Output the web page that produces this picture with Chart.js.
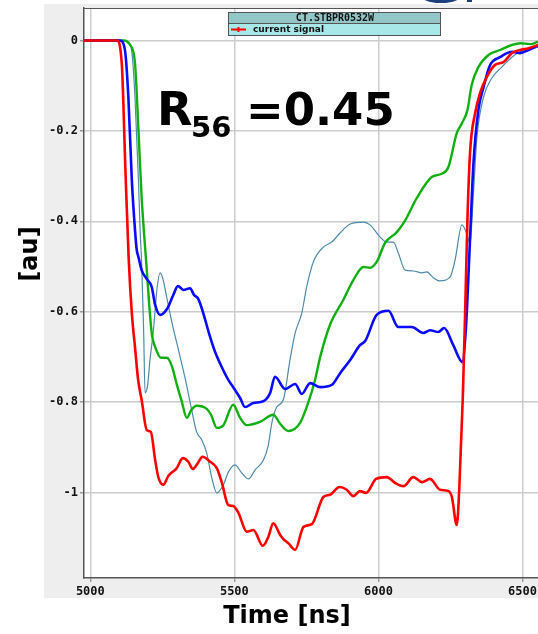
<!DOCTYPE html>
<html>
<head>
<meta charset="utf-8">
<script src="https://cdn.jsdelivr.net/npm/chart.js@4.4.0/dist/chart.umd.min.js"></script>
<style>
    html, body { margin: 0; padding: 0; background: #ffffff; }
    #chart { display: block; }
</style>
</head>
<body>
<canvas id="chart" width="538" height="634"></canvas>
<script>
    'use strict';

    // time axis (ns) and signal values (au)
    var redTime = [4978, 5079, 5092, 5109, 5122, 5133, 5144, 5155, 5166, 5178, 5196, 5210, 5225, 5236, 5253, 5271, 5300, 5321, 5340, 5356,
        5369, 5390, 5416, 5439, 5456, 5479, 5496, 5514, 5543, 5566, 5599, 5618, 5635, 5659, 5670, 5687, 5711, 5740, 5769, 5809,
        5832, 5865, 5890, 5913, 5936, 5957, 5992, 6029, 6058, 6087, 6121, 6151, 6179, 6214, 6243, 6255, 6272, 6281, 6293, 6301,
        6309, 6318, 6336, 6353, 6376, 6405, 6434, 6463, 6492, 6521, 6554];
    var redValues = [0, 0, 0, -0.050, -0.29, -0.48, -0.603, -0.678, -0.751, -0.795, -0.862, -0.866, -0.928, -0.966, -0.983, -0.963, -0.946, -0.924, -0.932, -0.948,
        -0.939, -0.921, -0.932, -0.946, -0.977, -1.028, -1.030, -1.045, -1.087, -1.083, -1.118, -1.098, -1.068, -1.094, -1.103, -1.112, -1.127, -1.076, -1.070, -1.010,
        -1.005, -0.988, -0.994, -1.008, -0.997, -1.001, -0.970, -0.966, -0.979, -0.986, -0.966, -0.977, -0.970, -0.994, -0.997, -1.010, -1.072, -0.988, -0.789, -0.603,
        -0.397, -0.249, -0.160, -0.116, -0.081, -0.054, -0.048, -0.028, -0.021, -0.017, -0.010];

    var blueTime = [4978, 5103, 5120, 5132, 5144, 5155, 5161, 5167, 5178, 5196, 5213, 5225, 5242, 5266, 5288, 5304, 5323, 5346, 5360, 5375,
        5392, 5412, 5433, 5450, 5479, 5496, 5520, 5537, 5566, 5601, 5624, 5641, 5676, 5711, 5734, 5763, 5798, 5838, 5867, 5902,
        5936, 5954, 5994, 6035, 6069, 6116, 6156, 6179, 6208, 6228, 6260, 6291, 6304, 6316, 6330, 6347, 6365, 6388, 6422, 6463,
        6492, 6521, 6554];
    var blueValues = [0, 0, -0.021, -0.125, -0.309, -0.419, -0.463, -0.479, -0.508, -0.528, -0.545, -0.585, -0.607, -0.594, -0.563, -0.543, -0.552, -0.548, -0.563, -0.572,
        -0.603, -0.648, -0.689, -0.714, -0.751, -0.767, -0.791, -0.811, -0.802, -0.798, -0.780, -0.744, -0.771, -0.760, -0.782, -0.758, -0.767, -0.762, -0.736, -0.707,
        -0.674, -0.665, -0.607, -0.598, -0.634, -0.634, -0.647, -0.641, -0.645, -0.636, -0.674, -0.711, -0.634, -0.470, -0.271, -0.154, -0.103, -0.054, -0.037, -0.025,
        -0.028, -0.021, -0.012];

    var greenTime = [4978, 5115, 5138, 5155, 5167, 5178, 5190, 5196, 5205, 5214, 5225, 5245, 5265, 5284, 5298, 5317, 5335, 5351, 5369, 5404,
        5419, 5439, 5462, 5496, 5520, 5543, 5589, 5635, 5659, 5687, 5728, 5757, 5780, 5798, 5832, 5878, 5913, 5948, 5971, 5994,
        6023, 6064, 6093, 6133, 6185, 6220, 6243, 6272, 6290, 6309, 6324, 6347, 6382, 6422, 6463, 6492, 6527, 6554];
    var greenValues = [0, 0, -0.010, -0.050, -0.198, -0.346, -0.457, -0.508, -0.590, -0.652, -0.678, -0.702, -0.702, -0.722, -0.756, -0.798, -0.835, -0.817, -0.808, -0.815,
        -0.828, -0.857, -0.851, -0.806, -0.835, -0.851, -0.844, -0.828, -0.848, -0.864, -0.846, -0.800, -0.751, -0.700, -0.629, -0.574, -0.530, -0.501, -0.503, -0.490,
        -0.448, -0.424, -0.398, -0.349, -0.302, -0.295, -0.280, -0.205, -0.183, -0.154, -0.098, -0.059, -0.032, -0.021, -0.010, -0.006, -0.008, -0.003];

    var thinTime = [4978, 5117, 5131, 5144, 5155, 5167, 5173, 5178, 5185, 5190, 5199, 5207, 5219, 5231, 5242, 5253, 5265, 5283, 5306, 5329,
        5352, 5369, 5387, 5404, 5421, 5439, 5462, 5479, 5502, 5526, 5549, 5572, 5601, 5618, 5630, 5647, 5670, 5693, 5711, 5734,
        5751, 5774, 5809, 5838, 5867, 5902, 5948, 5971, 6006, 6029, 6052, 6069, 6093, 6121, 6151, 6168, 6191, 6214, 6249, 6266,
        6290, 6307, 6318, 6330, 6342, 6365, 6394, 6428, 6463, 6492, 6527, 6554];
    var thinValues = [0, 0, -0.003, -0.025, -0.125, -0.309, -0.424, -0.490, -0.641, -0.780, -0.762, -0.707, -0.641, -0.552, -0.514, -0.530, -0.568, -0.623, -0.685, -0.747,
        -0.818, -0.866, -0.884, -0.913, -0.966, -1.001, -0.983, -0.955, -0.939, -0.957, -0.970, -0.950, -0.928, -0.895, -0.846, -0.811, -0.795, -0.707, -0.647, -0.603,
        -0.545, -0.490, -0.457, -0.446, -0.426, -0.406, -0.402, -0.408, -0.435, -0.446, -0.446, -0.470, -0.508, -0.510, -0.514, -0.512, -0.525, -0.532, -0.523, -0.486,
        -0.408, -0.428, -0.450, -0.337, -0.214, -0.125, -0.083, -0.059, -0.037, -0.025, -0.017, -0.014];

    var xTickValues = [5000, 5500, 6000, 6500];
    var xTickLabels = ['5000', '5500', '6000', '6500'];
    var yTickValues = [0, -0.2, -0.4, -0.6, -0.8, -1];
    var yTickLabels = ['0', '-0.2', '-0.4', '-0.6', '-0.8', '-1'];

    var legendTitle = 'CT.STBPR0532W';
    var legendLabel = 'current signal';

    function toPoints(times, values) {
        return times.map(function (t, i) {
            return {x: t, y: values[i]};
        });
    }

    var tickFont = {family: 'DejaVu Sans Mono', size: 12, weight: 'bold'};

    var decorPlugin = {
        id: 'decor',
        beforeDraw: function (chart) {
            var ctx = chart.ctx, a = chart.chartArea;
            ctx.save();
            ctx.fillStyle = '#ffffff';
            ctx.fillRect(0, 0, chart.width, chart.height);
            ctx.fillStyle = '#eeeeee';
            ctx.fillRect(44, 4, chart.width - 44, 594);
            ctx.fillStyle = '#ffffff';
            ctx.fillRect(a.left, a.top, a.right - a.left, a.bottom - a.top);
            ctx.restore();
        },
        afterDraw: function (chart) {
            var ctx = chart.ctx, a = chart.chartArea;
            ctx.save();

            // top frame line
            ctx.strokeStyle = '#555555';
            ctx.lineWidth = 1;
            ctx.beginPath();
            ctx.moveTo(a.left, a.top + 0.5);
            ctx.lineTo(a.right, a.top + 0.5);
            ctx.stroke();

            // logo fragment at the top edge
            ctx.fillStyle = '#1b3f7f';
            ctx.beginPath();
            ctx.ellipse(441, -8, 24, 11, 0, 0, Math.PI * 2);
            ctx.fill();
            ctx.fillRect(467, 0, 5, 2);

            // legend box
            ctx.fillStyle = '#93c6c6';
            ctx.fillRect(228, 12, 213, 11);
            ctx.fillStyle = '#a9e8e8';
            ctx.fillRect(228, 23, 213, 13);
            ctx.strokeStyle = '#555555';
            ctx.lineWidth = 1;
            ctx.strokeRect(228.5, 12.5, 212, 23);
            ctx.beginPath();
            ctx.moveTo(228, 23.5);
            ctx.lineTo(441, 23.5);
            ctx.stroke();
            ctx.fillStyle = '#111111';
            ctx.font = 'bold 10px "DejaVu Sans Mono"';
            ctx.textAlign = 'center';
            ctx.textBaseline = 'middle';
            ctx.fillText(legendTitle, 335, 18);
            ctx.strokeStyle = '#ff0000';
            ctx.lineWidth = 2;
            ctx.beginPath();
            ctx.moveTo(231, 29.5);
            ctx.lineTo(246, 29.5);
            ctx.moveTo(238.5, 27);
            ctx.lineTo(238.5, 32);
            ctx.stroke();
            ctx.fillStyle = '#111111';
            ctx.font = 'bold 9px "DejaVu Sans"';
            ctx.textAlign = 'left';
            ctx.fillText(legendLabel, 253, 29.5);

            // annotation
            ctx.fillStyle = '#000000';
            ctx.textBaseline = 'alphabetic';
            ctx.font = 'bold 46px "DejaVu Sans"';
            ctx.fillText('R', 157, 125);
            ctx.font = 'bold 29px "DejaVu Sans"';
            ctx.fillText('56', 191, 137);
            ctx.font = 'bold 45px "DejaVu Sans"';
            ctx.fillText('=0.45', 246, 125);

            // axis titles
            ctx.font = 'bold 24px "DejaVu Sans"';
            ctx.textAlign = 'center';
            ctx.textBaseline = 'middle';
            ctx.fillText('Time [ns]', 287, 617);
            ctx.translate(31, 254);
            ctx.rotate(-Math.PI / 2);
            ctx.fillText('[au]', 0, 0);

            ctx.restore();
        }
    };

    var chart = new Chart(document.getElementById('chart'), {
        type: 'line',
        data: {
            datasets: [
                {
                    label: 'red',
                    data: toPoints(redTime, redValues),
                    borderColor: '#ff0000',
                    borderWidth: 2.6
                },
                {
                    label: 'blue',
                    data: toPoints(blueTime, blueValues),
                    borderColor: '#0a0aff',
                    borderWidth: 2.6
                },
                {
                    label: 'green',
                    data: toPoints(greenTime, greenValues),
                    borderColor: '#10b010',
                    borderWidth: 2.4
                },
                {
                    label: 'thin',
                    data: toPoints(thinTime, thinValues),
                    borderColor: '#4d8aad',
                    borderWidth: 1.2
                }
            ]
        },
        options: {
            responsive: false,
            animation: false,
            devicePixelRatio: 1,
            layout: {padding: {top: 8, right: 0, bottom: 0, left: 0}},
            plugins: {
                legend: {display: false},
                tooltip: {enabled: false}
            },
            elements: {
                point: {radius: 0},
                line: {cubicInterpolationMode: 'monotone', fill: false}
            },
            scales: {
                x: {
                    type: 'linear',
                    min: 4978,
                    max: 6554,
                    afterBuildTicks: function (scale) {
                        scale.ticks = xTickValues.map(function (v) { return {value: v}; });
                    },
                    afterFit: function (scale) {
                        scale.height = 56;
                        scale.paddingLeft = 0;
                        scale.paddingRight = 0;
                    },
                    ticks: {
                        font: tickFont,
                        color: '#111111',
                        padding: 3,
                        maxRotation: 0,
                        autoSkip: false,
                        callback: function (v) { return xTickLabels[xTickValues.indexOf(v)]; }
                    },
                    grid: {color: '#cccccc', lineWidth: 1.5, tickLength: 4, tickColor: '#999999'},
                    border: {color: '#555555', width: 1.5}
                },
                y: {
                    type: 'linear',
                    min: -1.1892,
                    max: 0.0719,
                    afterBuildTicks: function (scale) {
                        scale.ticks = yTickValues.map(function (v) { return {value: v}; });
                    },
                    afterFit: function (scale) {
                        scale.width = 84;
                        scale.paddingTop = 0;
                        scale.paddingBottom = 0;
                    },
                    ticks: {
                        font: tickFont,
                        color: '#111111',
                        padding: 2,
                        autoSkip: false,
                        callback: function (v) { return yTickLabels[yTickValues.indexOf(v)]; }
                    },
                    grid: {color: '#cccccc', lineWidth: 1.5, tickLength: 4, tickColor: '#999999'},
                    border: {color: '#555555', width: 1.5}
                }
            }
        },
        plugins: [decorPlugin]
    });
</script>
</body>
</html>
